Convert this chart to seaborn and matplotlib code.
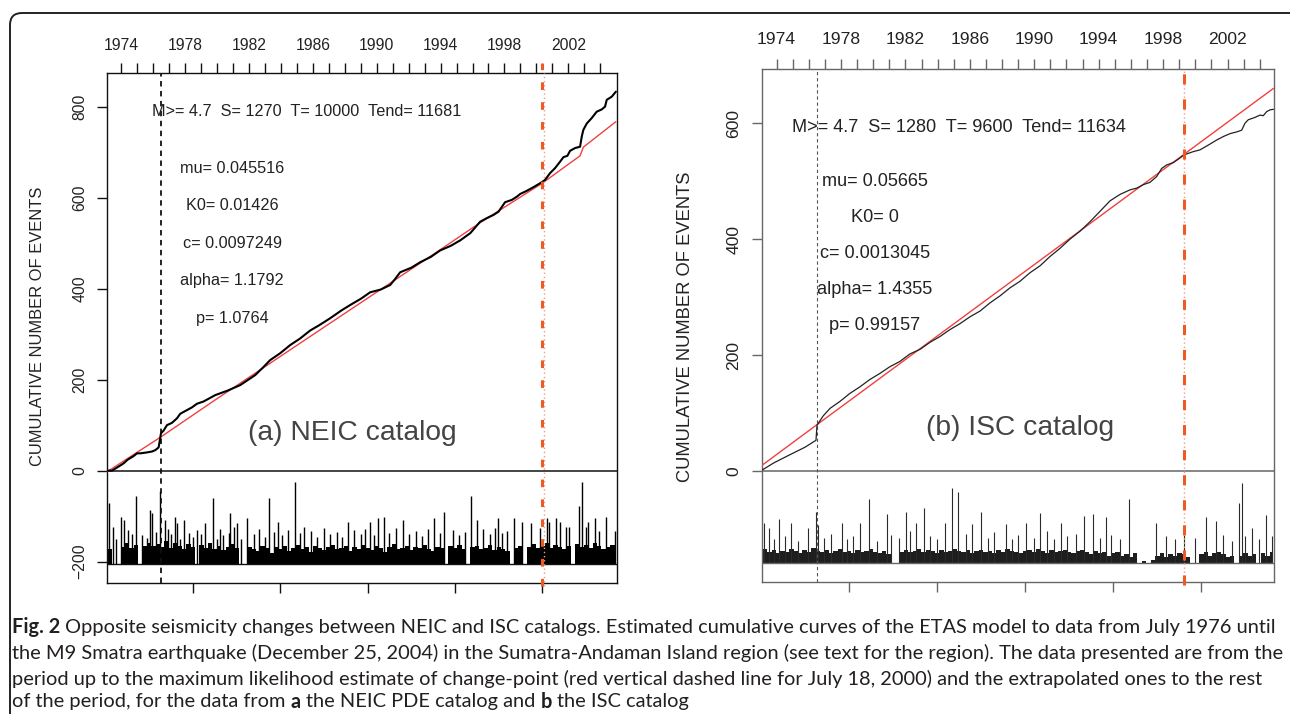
import numpy as np
import pandas as pd
import matplotlib
matplotlib.use("Agg")
import matplotlib.pyplot as plt
import seaborn as sns
from matplotlib.patches import FancyBboxPatch
from matplotlib import font_manager

# ---------------- data ----------------
years_top = list(range(1974, 2005))
year_labels = [str(y) if (y - 1974) % 4 == 0 else "" for y in years_top]
bottom_ticks = [2000, 4000, 6000, 8000, 10000]
band_step = 100  # days between magnitude-band readings

# Panel (a) NEIC
a_S, a_T, a_Tend = 1270, 10000, 11681
a_header = "M>= 4.7  S= 1270  T= 10000  Tend= 11681"
a_params = ["mu= 0.045516", "K0= 0.01426", "c= 0.0097249", "alpha= 1.1792", "p= 1.0764"]
a_title = "(a) NEIC catalog"
a_yticks = [-200, 0, 200, 400, 600, 800]
a_obs_day = [0, 152, 304, 418, 510, 647, 724, 800, 952, 1067, 1143, 1219, 1242, 1273, 1333, 1410,
             1524, 1639, 1714, 1867, 1982, 2096, 2248, 2515, 2800, 3086, 3429, 3600, 3772, 4000,
             4230, 4450, 4687, 4900, 5145, 5400, 5602, 5850, 6059, 6300, 6517, 6620, 6746, 7000,
             7203, 7450, 7661, 7900, 8118, 8350, 8575, 8728, 8880, 8994, 9146, 9299, 9414, 9490,
             9642, 9794, 9954, 10061, 10176, 10290, 10404, 10481, 10572, 10633, 10747, 10862,
             10900, 10937, 11015, 11129, 11243, 11358, 11433, 11472, 11587, 11681]
a_obs_n = [0, 0, 9, 16, 24, 32, 38, 38, 40, 42, 45, 51, 64, 82, 88, 100,
           105, 115, 125, 133, 139, 147, 152, 166, 176, 188, 210, 226, 243, 258,
           276, 290, 308, 320, 335, 352, 364, 378, 392, 398, 408, 420, 436, 446,
           458, 470, 484, 494, 506, 522, 547, 555, 562, 569, 590, 595, 602, 608,
           615, 623, 632, 639, 654, 665, 679, 689, 692, 703, 709, 712,
           734, 749, 763, 775, 789, 794, 800, 815, 822, 833]
a_fit_day = [0, 1270, 2476, 5000, 7500, 8575, 10000, 10862, 10937, 11681]
a_fit_n = [-5, 74, 153, 315, 475, 545, 632, 692, 711, 767]
a_base = -206
a_band_top = [-165, -172, -206, -206, -168, -160, -170, -164, -206, -166,
              -158, -166, -162, -168, -155, -170, -160, -166, -172, -162,
              -168, -206, -164, -170, -160, -172, -166, -174, -168, -162,
              -170, -206, -206, -168, -172, -176, -166, -170, -180, -168,
              -172, -166, -176, -170, -164, -172, -168, -178, -166, -170,
              -174, -168, -164, -172, -170, -166, -176, -168, -172, -164,
              -170, -174, -166, -170, -178, -168, -162, -172, -170, -166,
              -174, -168, -170, -164, -172, -176, -168, -170, -206, -166,
              -170, -164, -172, -206, -168, -166, -172, -170, -164, -174,
              -168, -172, -176, -206, -170, -166, -206, -168, -162, -170,
              -166, -160, -170, -164, -168, -172, -166, -206, -162, -168,
              -164, -170, -158, -166, -172, -168, -164]
a_spike_day = [75, 176, 250, 365, 418, 510, 600, 701, 839, 950, 1028, 1074, 1150, 1257, 1371, 1433,
               1500, 1600, 1639, 1700, 1790, 1904, 2000, 2096, 2200, 2286, 2453, 2550, 2629, 2700,
               2819, 2858, 2933, 3011, 3100, 3236, 3400, 3520, 3650, 3741, 3850, 3947, 4050, 4180,
               4344, 4450, 4550, 4700, 4850, 5000, 5150, 5300, 5420, 5556, 5700, 5850, 5950, 6046,
               6150, 6233, 6373, 6500, 6650, 6812, 6950, 7100, 7250, 7380, 7520, 7650, 7751, 7950,
               8100, 8220, 8360, 8499, 8650, 8800, 8918, 8994, 9080, 9186, 9360, 9542, 9732, 9947,
               10100, 10152, 10313, 10404, 10541, 10617, 10846, 10900, 10998, 11051, 11204, 11296,
               11456, 11662]
a_spike_top = [-72, -123, -150, -101, -108, -130, -140, -55, -141, -148, -86, -94, -135, -44, -108, -128,
               -140, -101, -115, -150, -108, -137, -145, -130, -140, -115, -61, -150, -128, -142,
               -137, -94, -123, -115, -150, -105, -140, -128, -145, -61, -135, -112, -142, -130,
               -26, -138, -123, -132, -146, -126, -140, -134, -145, -112, -130, -140, -128, -112,
               -142, -105, -101, -136, -126, -108, -140, -132, -144, -128, -105, -138, -91, -130,
               -142, -134, -55, -108, -128, -140, -127, -105, -136, -132, -105, -112, -115, -127,
               -105, -112, -105, -112, -123, -123, -77, -26, -123, -112, -105, -133,
               -101, -133]

# Panel (b) ISC
b_S, b_T, b_Tend = 1280, 9600, 11634
b_header = "M>= 4.7  S= 1280  T= 9600  Tend= 11634"
b_params = ["mu= 0.05665", "K0= 0", "c= 0.0013045", "alpha= 1.4355", "p= 0.99157"]
b_title = "(b) ISC catalog"
b_yticks = [0, 200, 400, 600]
b_obs_day = [0, 300, 663, 1007, 1257, 1280, 1420, 1574, 1800, 2028, 2250, 2482, 2700, 2935, 3160,
             3389, 3620, 3843, 4070, 4297, 4520, 4750, 4980, 5204, 5430, 5658, 5880, 6111, 6340,
             6565, 6790, 7019, 7250, 7473, 7700, 7926, 8150, 8380, 8532, 8683, 8834, 8986, 9099,
             9213, 9363, 9515, 9599, 9703, 9817, 9968, 10082, 10195, 10347, 10497, 10649, 10801,
             10914, 10989, 11064, 11216, 11329, 11404, 11481, 11556, 11634]
b_obs_n = [0, 14, 28, 41, 53, 79, 95, 108, 120, 134, 145, 158, 168, 180, 189,
           202, 210, 222, 232, 244, 254, 266, 276, 290, 302, 316, 327, 342, 354,
           370, 384, 400, 414, 430, 448, 466, 477, 485, 488, 494, 498, 508, 522,
           528, 532, 540, 545, 548, 551, 554, 559, 564, 571, 577, 582, 585,
           588, 600, 606, 610, 614, 613, 620, 623, 624]
b_fit_day = [0, 1280, 9600, 11634]
b_fit_n = [8, 80, 546, 660]
b_base = -158
b_band_top = [-138, -134, -140, -136, -142, -138, -140, -134, -138, -142,
              -136, -140, -132, -138, -140, -136, -142, -138, -134, -140,
              -138, -142, -136, -140, -138, -134, -140, -142, -138, -144,
              -158, -158, -140, -136, -140, -138, -134, -140, -136, -138,
              -142, -136, -140, -138, -134, -138, -140, -136, -142, -138,
              -136, -140, -138, -142, -136, -140, -134, -138, -140, -142,
              -138, -136, -140, -134, -138, -142, -136, -140, -138, -136,
              -140, -142, -138, -136, -140, -144, -138, -142, -140, -146,
              -142, -140, -146, -144, -148, -142, -158, -156, -158, -154,
              -146, -142, -148, -144, -146, -142, -144, -148, -158, -158,
              -144, -140, -146, -142, -140, -144, -148, -146, -158, -146,
              -142, -146, -144, -158, -142, -146, -140]
b_spike_day = [86, 200, 300, 415, 560, 696, 850, 1073, 1261, 1309, 1450, 1600, 1844, 1950, 2100,
               2248, 2457, 2650, 2861, 2950, 3150, 3303, 3400, 3519, 3707, 3850, 4000, 4177, 4347,
               4478, 4650, 4789, 4995, 5150, 5300, 5560, 5700, 5850, 6012, 6200, 6338, 6500, 6650,
               6810, 6950, 7150, 7328, 7545, 7700, 7827, 7950, 8150, 8362, 8975, 9200, 9400, 9614,
               9850, 10102, 10338, 10500, 10700, 10855, 10930, 11000, 11137, 11300, 11466, 11608]
b_spike_top = [-90, -99, -118, -82, -112, -90, -120, -99, -70, -93, -115, -108, -90, -118, -112,
               -90, -49, -120, -74, -110, -116, -70, -104, -90, -63, -112, -118, -90, -30,
               -37, -108, -92, -70, -115, -106, -92, -118, -110, -90, -116, -73, -104, -118,
               -89, -112, -108, -78, -75, -116, -80, -110, -118, -49, -89, -112, -118, -110,
               -116, -79, -86, -110, -120, -55, -21, -112, -99, -118, -76, -113]

caption_lines = [
    [("Fig. 2", True), ("Opposite seismicity changes between NEIC and ISC catalogs. Estimated cumulative curves of the ETAS model to data from July 1976 until", False)],
    [("the M9 Smatra earthquake (December 25, 2004) in the Sumatra-Andaman Island region (see text for the region). The data presented are from the", False)],
    [("period up to the maximum likelihood estimate of change-point (red vertical dashed line for July 18, 2000) and the extrapolated ones to the rest", False)],
    [("of the period, for the data from", False), ("a", True), ("the NEIC PDE catalog and", False), ("b", True), ("the ISC catalog", False)],
]

# ---------------- style ----------------
W, H = 1290, 714
sns.set_theme(style="ticks")
plt.rcParams["font.family"] = ["Liberation Sans", "DejaVu Sans"]
plt.rcParams["axes.facecolor"] = "white"
plt.rcParams["figure.facecolor"] = "white"

fig = plt.figure(figsize=(W / 100, H / 100), dpi=100)


def px_axes(l, t, r, b):
    return [l / W, 1 - b / H, (r - l) / W, (b - t) / H]


def draw_panel(ax, cfg):
    fs = cfg["fs"]
    fc = cfg["fc"]
    ax.set_xlim(cfg["xlim"])
    ax.set_ylim(cfg["ylim"])
    # magnitude spikes (dense band + individual spikes)
    band_days = np.arange(len(cfg["band"])) * band_step
    ax.fill_between(np.append(band_days, cfg["Tend"]), cfg["base"],
                    np.append(cfg["band"], cfg["band"][-1]), step="mid",
                    color=cfg["bandc"], lw=0, zorder=2)
    ax.vlines(cfg["sp_day"], cfg["base"], cfg["sp_top"], color=cfg["spc"], lw=cfg["splw"], zorder=2)
    ax.axhline(cfg["base"], color=fc, lw=1.0, zorder=2)
    ax.axhline(0, color=fc, lw=1.1, zorder=2)
    # cumulative curves
    sns.lineplot(x=cfg["fit_day"], y=cfg["fit_n"], ax=ax, color="#f04040", lw=1.0,
                 sort=False, estimator=None, zorder=3)
    sns.lineplot(x=cfg["obs_day"], y=cfg["obs_n"], ax=ax, color=cfg["cc"], lw=cfg["clw"],
                 sort=False, estimator=None, zorder=4)
    # vertical lines
    ax.axvline(cfg["S"], color=cfg["sc"], lw=cfg["slw"], ls=(0, (3, 2.5)), zorder=3)
    ax.axvline(cfg["T"] + cfg["dot_off"], ymin=-0.005, ymax=1.0, color="#f49a8a", lw=1.0,
               ls=(0, (1, 2)), zorder=3, clip_on=False)
    ax.axvline(cfg["T"], ymin=-0.005, ymax=1.02, color="#ee5a24", lw=2.2,
               ls=(0, cfg["dash"]), zorder=5, clip_on=False)
    # texts
    ax.text(cfg["hdr_xy"][0], cfg["hdr_xy"][1], cfg["header"], ha="left", va="center",
            fontsize=cfg["tfs"], color="#222222", zorder=6)
    for i, p in enumerate(cfg["params"]):
        ax.text(cfg["par_x"], cfg["par_y0"] - i * cfg["par_dy"], p, ha="center", va="center",
                fontsize=cfg["tfs"], color="#222222", zorder=6)
    ax.text(cfg["ttl_xy"][0], cfg["ttl_xy"][1], cfg["title"], ha="center", va="center",
            fontsize=20.3, color="#444444", zorder=6)
    # axes styling
    for s in ax.spines.values():
        s.set_visible(True)
        s.set_color(fc)
        s.set_linewidth(1.0)
    ax.set_xticks(bottom_ticks)
    ax.set_xticklabels([])
    ax.set_yticks(cfg["yticks"])
    ax.set_yticklabels([str(v).replace("-", "\u2212") for v in cfg["yticks"]], rotation=90, va="center")
    ax.tick_params(axis="both", direction="out", length=7.2, width=1.0, color=fc,
                   labelsize=fs, labelcolor="#222222")
    ax.tick_params(axis="y", pad=cfg["ypad"])
    ax.set_xlabel("")
    ax.set_ylabel("")
    # top year axis
    axt = ax.twiny()
    axt.set_xlim(cfg["xlim"])
    axt.set_xticks([(y - 1973) * 365.25 for y in years_top])
    axt.set_xticklabels(year_labels)
    axt.tick_params(axis="x", direction="out", length=7.2, width=1.0, color=fc,
                    labelsize=fs, labelcolor="#222222", pad=cfg["xpad"])
    for s in axt.spines.values():
        s.set_visible(False)
    axt.grid(False)
    ax.grid(False)


axa = fig.add_axes(px_axes(107, 73, 616.7, 583))
axb = fig.add_axes(px_axes(762.3, 69.3, 1274, 582))

cfg_a = dict(xlim=(38, 11700), ylim=(-247, 874), band=a_band_top, base=a_base, Tend=a_Tend,
             sp_day=a_spike_day, sp_top=a_spike_top, spc="#000000", bandc="#000000", splw=1.0, fc="#111111",
             fit_day=a_fit_day, fit_n=a_fit_n, obs_day=a_obs_day, obs_n=a_obs_n, cc="#000000", clw=1.5,
             S=a_S, T=a_T, sc="#111111", slw=1.3, dot_off=45, dash=(2.5, 4.0),
             header=a_header, hdr_xy=(1067, 789), params=a_params, par_x=2903, par_y0=664.6, par_dy=82.4,
             title=a_title, ttl_xy=(5648, 83), yticks=a_yticks, fs=11.3, tfs=11.7, ypad=7, xpad=7)
cfg_b = dict(xlim=(39, 11647), ylim=(-191.5, 693), band=b_band_top, base=b_base, Tend=b_Tend,
             sp_day=b_spike_day, sp_top=b_spike_top, spc="#2a2a2a", bandc="#1e1e1e", splw=0.8, fc="#666666",
             fit_day=b_fit_day, fit_n=b_fit_n, obs_day=b_obs_day, obs_n=b_obs_n, cc="#222222", clw=0.9,
             S=b_S, T=b_T, sc="#555555", slw=0.8, dot_off=0, dash=(3.3, 4.9),
             header=b_header, hdr_xy=(705, 593), params=b_params, par_x=2595, par_y0=499, par_dy=62.1,
             title=b_title, ttl_xy=(5885, 74), yticks=b_yticks, fs=12.6, tfs=13.1, ypad=8, xpad=9)

draw_panel(axa, cfg_a)
draw_panel(axb, cfg_b)

# y labels
fig.text(38 / W, 1 - 326 / H, "CUMULATIVE NUMBER OF EVENTS", rotation=90, ha="center", va="center",
         fontsize=11.9, color="#222222")
fig.text(685 / W, 1 - 327 / H, "CUMULATIVE NUMBER OF EVENTS", rotation=90, ha="center", va="center",
         fontsize=13.2, color="#222222")

# rounded frame
frame = FancyBboxPatch((0.10, -0.5), 12.95, 7.51, boxstyle="round,pad=0,rounding_size=0.12",
                       transform=fig.dpi_scale_trans, fill=False, lw=1.4, ec="#222222", zorder=10)
fig.patches.append(frame)

# caption: pick the narrowest installed face, then size it to the reference line width
renderer = fig.canvas.get_renderer()
has_cond = any(("DejaVuSansCondensed" in f.fname) for f in font_manager.fontManager.ttflist)
cands = []
if has_cond:
    cands.append((["DejaVu Sans"], "condensed"))
for fam in ["Liberation Sans", "Roboto", "Lato", "Open Sans", "Inter", "Noto Sans"]:
    cands.append(([fam, "DejaVu Sans"], "normal"))


def text_w(s, fs, fam, stretch, bold=False):
    t = fig.text(0, 0, s, fontsize=fs, family=fam, fontstretch=stretch,
                 fontweight="bold" if bold else "normal")
    w = t.get_window_extent(renderer).width
    t.remove()
    return w


best = None
for fam, st in cands:
    try:
        w = text_w(caption_lines[1][0][0], 12.0, fam, st)
    except Exception:
        continue
    if best is None or w < best[0]:
        best = (w, fam, st)
_, cap_family, cap_stretch = best


def line_width(segs, fs):
    sp = text_w("x x", fs, cap_family, cap_stretch) - text_w("xx", fs, cap_family, cap_stretch)
    tot = 0
    for i, (txt, bold) in enumerate(segs):
        tot += text_w(txt, fs, cap_family, cap_stretch, bold)
        if i:
            tot += sp
    return tot


cap_fs = 12.0
w1 = line_width(caption_lines[0], cap_fs)
cap_fs = cap_fs * 1262.0 / w1
space_w = text_w("x x", cap_fs, cap_family, cap_stretch) - text_w("xx", cap_fs, cap_family, cap_stretch)
cap_ys = [627, 653, 679, 702]
for segs, y in zip(caption_lines, cap_ys):
    x = 12.0
    for txt, bold in segs:
        t = fig.text(x / W, 1 - y / H, txt, fontsize=cap_fs, family=cap_family, fontstretch=cap_stretch,
                     fontweight="bold" if bold else "normal", ha="left", va="center", color="#231f20")
        x += t.get_window_extent(renderer).width + space_w

fig.savefig("out.png", dpi=100)
